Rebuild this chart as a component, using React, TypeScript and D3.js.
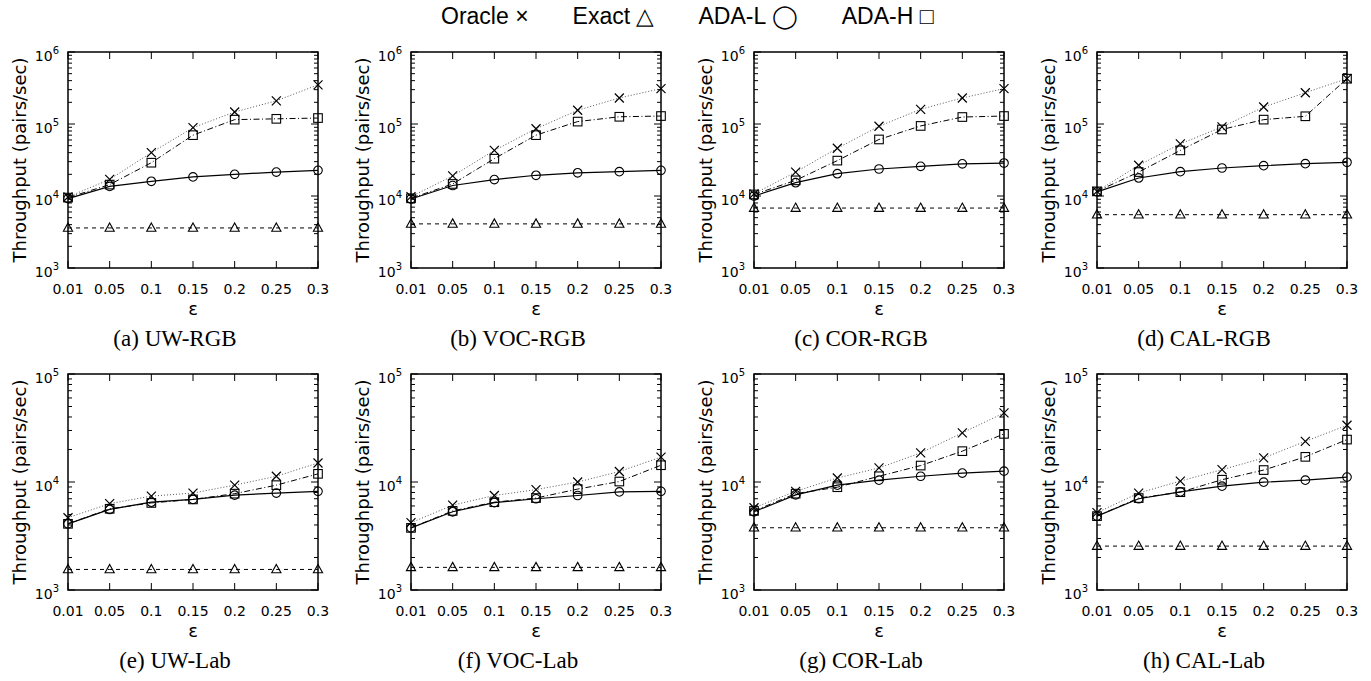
import React, { useEffect, useRef } from 'react';
import * as d3 from 'd3';

const eps = ['0.01', '0.05', '0.1', '0.15', '0.2', '0.25', '0.3'];
const captions = ['(a) UW-RGB', '(b) VOC-RGB', '(c) COR-RGB', '(d) CAL-RGB', '(e) UW-Lab', '(f) VOC-Lab', '(g) COR-Lab', '(h) CAL-Lab'];

// one row per panel, in caption order
const oracle = [
    [9.7e3, 1.7e4, 4.0e4, 8.9e4, 1.47e5, 2.1e5, 3.5e5],
    [9.8e3, 1.9e4, 4.3e4, 8.6e4, 1.55e5, 2.3e5, 3.1e5],
    [1.07e4, 2.15e4, 4.6e4, 9.3e4, 1.6e5, 2.3e5, 3.1e5],
    [1.16e4, 2.67e4, 5.3e4, 9.1e4, 1.72e5, 2.72e5, 4.26e5],
    [4.67e3, 6.3e3, 7.4e3, 7.9e3, 9.35e3, 1.13e4, 1.5e4],
    [4.2e3, 6.1e3, 7.5e3, 8.5e3, 1.0e4, 1.25e4, 1.7e4],
    [5.77e3, 8.2e3, 1.09e4, 1.35e4, 1.86e4, 2.85e4, 4.36e4],
    [5.2e3, 7.9e3, 1.02e4, 1.3e4, 1.67e4, 2.38e4, 3.35e4],
];
const exact = [
    [3.6e3, 3.6e3, 3.6e3, 3.6e3, 3.6e3, 3.6e3, 3.6e3],
    [4.1e3, 4.1e3, 4.1e3, 4.1e3, 4.1e3, 4.1e3, 4.1e3],
    [6.8e3, 6.8e3, 6.8e3, 6.8e3, 6.8e3, 6.8e3, 6.8e3],
    [5.5e3, 5.5e3, 5.5e3, 5.5e3, 5.5e3, 5.5e3, 5.5e3],
    [1.55e3, 1.55e3, 1.55e3, 1.55e3, 1.55e3, 1.55e3, 1.55e3],
    [1.62e3, 1.62e3, 1.62e3, 1.62e3, 1.62e3, 1.62e3, 1.62e3],
    [3.77e3, 3.77e3, 3.77e3, 3.77e3, 3.77e3, 3.77e3, 3.77e3],
    [2.55e3, 2.55e3, 2.55e3, 2.55e3, 2.55e3, 2.55e3, 2.55e3],
];
const adaL = [
    [9.2e3, 1.36e4, 1.6e4, 1.84e4, 2.0e4, 2.15e4, 2.27e4],
    [9.1e3, 1.4e4, 1.69e4, 1.94e4, 2.1e4, 2.18e4, 2.27e4],
    [1.0e4, 1.53e4, 2.04e4, 2.37e4, 2.58e4, 2.8e4, 2.87e4],
    [1.14e4, 1.78e4, 2.18e4, 2.45e4, 2.64e4, 2.81e4, 2.94e4],
    [4.1e3, 5.57e3, 6.5e3, 6.9e3, 7.55e3, 7.9e3, 8.2e3],
    [3.76e3, 5.3e3, 6.45e3, 7.0e3, 7.5e3, 8.1e3, 8.2e3],
    [5.3e3, 7.6e3, 9.35e3, 1.04e4, 1.13e4, 1.21e4, 1.26e4],
    [4.83e3, 7.0e3, 8.1e3, 9.15e3, 9.97e3, 1.04e4, 1.11e4],
];
const adaH = [
    [9.5e3, 1.44e4, 2.9e4, 7.0e4, 1.15e5, 1.18e5, 1.21e5],
    [9.3e3, 1.47e4, 3.3e4, 7.0e4, 1.08e5, 1.26e5, 1.29e5],
    [1.05e4, 1.65e4, 3.1e4, 6.1e4, 9.4e4, 1.25e5, 1.29e5],
    [1.16e4, 2.15e4, 4.3e4, 8.4e4, 1.15e5, 1.28e5, 4.26e5],
    [4.1e3, 5.65e3, 6.4e3, 6.9e3, 7.8e3, 9.35e3, 1.19e4],
    [3.76e3, 5.4e3, 6.5e3, 7.1e3, 8.6e3, 1.01e4, 1.43e4],
    [5.4e3, 7.8e3, 8.95e3, 1.13e4, 1.42e4, 1.93e4, 2.79e4],
    [4.83e3, 7.1e3, 8.05e3, 1.05e4, 1.29e4, 1.71e4, 2.47e4],
];
const yDomains = [[1e3, 1e6], [1e3, 1e5]];
const legendLabels = ['Oracle \u00d7', 'Exact \u25b3', 'ADA-L \u25ef', 'ADA-H \u25a1'];

const series = [
    { data: oracle, color: '#555', width: 1, dash: '1,2', mark: 'cross' },
    { data: exact, color: '#000', width: 1, dash: '4,4', mark: 'triangle' },
    { data: adaL, color: '#000', width: 1.2, dash: null, mark: 'circle' },
    { data: adaH, color: '#000', width: 1, dash: '6,2.5,1,2.5', mark: 'square' },
];

const SANS = 'DejaVu Sans, sans-serif';

export default function App() {
    const ref = useRef<SVGSVGElement>(null);

    useEffect(() => {
        const svg = d3.select(ref.current);
        svg.selectAll('*').remove();

        // legend
        let lx = 441;
        const lg = svg.append('g');
        legendLabels.forEach((t) => {
            const node = lg.append('text')
                .attr('x', lx).attr('y', 24)
                .attr('font-family', 'Liberation Sans, Arial, sans-serif')
                .attr('font-size', 23)
                .text(t);
            lx += (node.node() as SVGTextElement).getComputedTextLength() + 44;
        });

        captions.forEach((cap, i) => {
            const row = Math.floor(i / 4);
            const col = i % 4;
            const x0 = 68 + col * 343;
            const x1 = x0 + 250;
            const y0 = 52 + row * 322;
            const y1 = y0 + 216;

            const x = d3.scalePoint().domain(eps).range([x0, x1]);
            const y = d3.scaleLog().domain(yDomains[row]).range([y1, y0]);

            const g = svg.append('g');

            // y ticks
            y.ticks().forEach((v) => {
                const major = Math.abs(Math.log10(v) - Math.round(Math.log10(v))) < 1e-9;
                const len = major ? 7 : 4;
                g.append('line').attr('x1', x0).attr('x2', x0 + len).attr('y1', y(v)).attr('y2', y(v))
                    .attr('stroke', '#000').attr('stroke-width', 1);
                g.append('line').attr('x1', x1).attr('x2', x1 - len).attr('y1', y(v)).attr('y2', y(v))
                    .attr('stroke', '#000').attr('stroke-width', 1);
                if (major) {
                    const lab = g.append('text')
                        .attr('x', x0 - 9).attr('y', y(v) + 9)
                        .attr('text-anchor', 'end')
                        .attr('font-family', SANS);
                    lab.append('tspan').attr('font-size', 14).text('10');
                    lab.append('tspan').attr('font-size', 10).attr('dy', -7).text(Math.round(Math.log10(v)));
                }
            });

            // x ticks
            eps.forEach((e) => {
                g.append('line').attr('x1', x(e)).attr('x2', x(e)).attr('y1', y1).attr('y2', y1 - 7)
                    .attr('stroke', '#000');
                g.append('line').attr('x1', x(e)).attr('x2', x(e)).attr('y1', y0).attr('y2', y0 + 7)
                    .attr('stroke', '#000');
                g.append('text')
                    .attr('x', x(e)).attr('y', y1 + 26)
                    .attr('text-anchor', 'middle')
                    .attr('font-family', SANS).attr('font-size', 14)
                    .text(e);
            });

            // series
            series.forEach((s) => {
                const vals = s.data[i];
                const line = d3.line<number>()
                    .x((d, k) => x(eps[k]) as number)
                    .y((d) => y(d));
                g.append('path')
                    .attr('d', line(vals))
                    .attr('fill', 'none')
                    .attr('stroke', s.color)
                    .attr('stroke-width', s.width)
                    .attr('stroke-dasharray', s.dash);

                vals.forEach((d, k) => {
                    const px = x(eps[k]) as number;
                    const py = y(d);
                    const m = g.append('g').attr('transform', 'translate(' + px + ',' + py + ')');
                    if (s.mark === 'cross') {
                        m.append('path').attr('d', 'M-4.5,-4.5L4.5,4.5M-4.5,4.5L4.5,-4.5')
                            .attr('stroke', '#000').attr('stroke-width', 1.2);
                    } else if (s.mark === 'triangle') {
                        m.append('path').attr('d', 'M0,-5L4.6,3.3L-4.6,3.3Z')
                            .attr('fill', 'none').attr('stroke', '#000').attr('stroke-width', 1.1);
                    } else if (s.mark === 'circle') {
                        m.append('circle').attr('r', 4.3)
                            .attr('fill', 'none').attr('stroke', '#000').attr('stroke-width', 1.1);
                    } else {
                        m.append('rect').attr('x', -4.3).attr('y', -4.3).attr('width', 8.6).attr('height', 8.6)
                            .attr('fill', 'none').attr('stroke', '#000').attr('stroke-width', 1.1);
                    }
                });
            });

            // frame
            g.append('rect')
                .attr('x', x0).attr('y', y0).attr('width', x1 - x0).attr('height', y1 - y0)
                .attr('fill', 'none').attr('stroke', '#000').attr('stroke-width', 1.5);

            // axis titles
            const cy = (y0 + y1) / 2;
            g.append('text')
                .attr('transform', 'translate(' + (x0 - 42) + ',' + cy + ') rotate(-90)')
                .attr('text-anchor', 'middle')
                .attr('font-family', SANS).attr('font-size', 18)
                .text('Throughput (pairs/sec)');
            g.append('text')
                .attr('x', (x0 + x1) / 2).attr('y', y1 + 47)
                .attr('text-anchor', 'middle')
                .attr('font-family', SANS).attr('font-size', 18)
                .text('\u03b5');
            g.append('text')
                .attr('x', (x0 + x1) / 2 - 18).attr('y', y1 + 78)
                .attr('text-anchor', 'middle')
                .attr('font-family', 'Liberation Serif, Times New Roman, serif').attr('font-size', 23)
                .text(cap);
        });
    }, []);

    return (
        <svg ref={ref} width={1371} height={681}
            style={{ position: 'absolute', left: 0, top: 0, background: '#fff' }} />
    );
}
